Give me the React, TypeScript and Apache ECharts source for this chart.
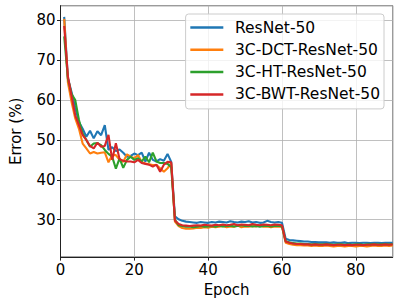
import React, { useEffect, useRef } from "react";
import * as echarts from "echarts";

const seriesNames = ["ResNet-50", "3C-DCT-ResNet-50", "3C-HT-ResNet-50", "3C-BWT-ResNet-50"];
const colors = ["#1f77b4", "#ff7f0e", "#2ca02c", "#d62728"];

const resnet = [
  80.9, 65.5, 62.0, 58.0, 54.5, 52.8, 50.8, 52.3, 50.4, 52.2,
  51.2, 53.7, 47.5, 48.2, 47.2, 47.6, 46.8, 45.8, 46.0, 46.6,
  46.2, 46.8, 44.6, 46.8, 45.0, 44.6, 45.2, 44.8, 46.5, 44.5,
  30.8, 30.1, 29.7, 29.5, 29.4, 29.3, 29.2, 29.4, 29.3, 29.2,
  29.4, 29.3, 29.5, 29.4, 29.3, 29.6, 29.4, 29.3, 29.5, 29.4,
  29.6, 29.3, 29.4, 29.2, 29.3, 29.7, 29.4, 29.3, 29.4, 29.2,
  25.2, 24.9, 24.8, 24.7, 24.6, 24.5, 24.5, 24.4, 24.4, 24.3,
  24.3, 24.3, 24.2, 24.3, 24.2, 24.2, 24.3, 24.1, 24.2, 24.2,
  24.1, 24.2, 24.2, 24.1, 24.2, 24.2, 24.1, 24.2, 24.2, 24.2,
];
const dct = [
  80.4, 64.5, 59.5, 55.4, 52.8, 49.1, 47.9, 46.6, 47.0, 46.6,
  46.8, 46.9, 44.4, 46.2, 46.2, 45.0, 44.5, 46.4, 45.8, 45.4,
  46.2, 44.5, 44.1, 43.9, 43.7, 43.7, 42.9, 42.0, 42.9, 44.1,
  29.5, 28.4, 27.9, 27.7, 27.7, 27.8, 28.0, 27.9, 28.1, 28.0,
  28.2, 28.1, 28.2, 28.4, 28.1, 28.3, 28.2, 28.5, 28.1, 28.3,
  28.2, 28.4, 28.3, 28.6, 28.2, 28.3, 28.1, 28.3, 28.2, 28.3,
  24.2, 23.9, 23.7, 23.6, 23.6, 23.5, 23.5, 23.4, 23.5, 23.4,
  23.4, 23.5, 23.4, 23.3, 23.4, 23.4, 23.3, 23.4, 23.4, 23.3,
  23.4, 23.4, 23.3, 23.4, 23.5, 23.4, 23.4, 23.5, 23.4, 23.5,
];
const ht = [
  76.0, 65.5, 61.5, 60.0, 55.0, 51.6, 50.0, 48.3, 49.1, 49.2,
  48.7, 47.5, 46.5, 45.8, 42.8, 45.4, 43.0, 45.0, 45.8, 45.0,
  45.4, 44.6, 45.8, 44.4, 46.8, 44.6, 44.2, 44.2, 44.0, 43.2,
  30.0, 28.6, 28.4, 28.2, 28.3, 28.1, 28.2, 28.4, 28.2, 28.3,
  28.4, 28.2, 28.5, 28.3, 28.4, 28.5, 28.3, 28.4, 28.6, 28.4,
  28.5, 28.3, 28.4, 28.2, 28.4, 28.5, 28.3, 28.4, 28.5, 28.3,
  24.6, 24.3, 24.1, 24.0, 24.0, 23.9, 23.9, 23.8, 23.9, 23.8,
  23.8, 23.9, 23.8, 23.7, 23.8, 23.8, 23.7, 23.8, 23.7, 23.8,
  23.8, 23.7, 23.8, 23.8, 23.9, 23.8, 23.8, 23.9, 23.8, 23.9,
];
const bwt = [
  78.6, 66.0, 61.0, 56.2, 53.7, 51.2, 50.0, 48.5, 47.9, 49.3,
  48.3, 48.5, 51.3, 45.0, 49.2, 45.2, 44.8, 44.6, 44.6, 44.4,
  45.0, 44.2, 44.0, 43.8, 43.3, 43.8, 42.0, 43.8, 44.5, 44.4,
  29.8, 28.9, 28.6, 28.5, 28.4, 28.5, 28.6, 28.5, 28.7, 28.6,
  28.5, 28.7, 28.6, 28.8, 28.6, 28.7, 28.9, 28.6, 28.8, 28.7,
  28.6, 28.9, 28.7, 28.6, 28.8, 28.7, 28.6, 28.8, 28.7, 28.6,
  24.5, 24.2, 24.0, 23.9, 23.9, 23.8, 23.8, 23.7, 23.8, 23.7,
  23.7, 23.8, 23.7, 23.6, 23.7, 23.7, 23.6, 23.7, 23.6, 23.7,
  23.7, 23.6, 23.7, 23.7, 23.8, 23.7, 23.7, 23.8, 23.7, 23.8,
];
const allSeries = [resnet, dct, ht, bwt];

const FONT = "DejaVu Sans";
const FS = 15;

export default function App() {
  const ref = useRef<HTMLDivElement>(null);
  useEffect(() => {
    if (!ref.current) return;
    const chart = echarts.init(ref.current, null, { renderer: "svg" });
    chart.setOption({
      animation: false,
      backgroundColor: "#ffffff",
      textStyle: { fontFamily: FONT },
      grid: {
        left: 49.3,
        top: 5.7,
        width: 343.4,
        height: 251.6,
        show: true,
        borderColor: "#222",
        borderWidth: 1,
        backgroundColor: "transparent",
      },
      legend: {
        orient: "vertical",
        right: 15,
        top: 14,
        data: seriesNames,
        icon: "rect",
        itemWidth: 33,
        itemHeight: 2.5,
        itemGap: 5.3,
        padding: [5, 4, 6, 4.7],
        backgroundColor: "rgba(255,255,255,0.8)",
        borderColor: "#cccccc",
        borderWidth: 1,
        borderRadius: 3,
        textStyle: {
          fontFamily: FONT,
          fontSize: 15.5,
          lineHeight: 17,
          color: "#000",
          padding: [0, 0, 0, 6.7],
        },
      },
      xAxis: {
        type: "value",
        min: 0,
        max: 90,
        interval: 20,
        name: "Epoch",
        nameLocation: "middle",
        nameGap: 18,
        nameTextStyle: { fontFamily: FONT, fontSize: FS, color: "#000" },
        axisLine: { show: true, lineStyle: { color: "#222", width: 1 } },
        axisTick: { show: true, length: 3.5, lineStyle: { color: "#222" } },
        axisLabel: {
          fontFamily: FONT,
          fontSize: FS,
          color: "#000",
          margin: 5,
          showMaxLabel: false,
        },
        splitLine: { show: true, lineStyle: { color: "#b0b0b0", width: 0.8 } },
      },
      yAxis: {
        type: "value",
        min: 20.6,
        max: 83.7,
        splitNumber: 6,
        name: "Error (%)",
        nameLocation: "middle",
        nameGap: 37.5,
        nameTextStyle: { fontFamily: FONT, fontSize: FS, color: "#000" },
        axisLine: { show: true, lineStyle: { color: "#222", width: 1 } },
        axisTick: { show: true, length: 3.5, lineStyle: { color: "#222" } },
        axisLabel: {
          fontFamily: FONT,
          fontSize: FS,
          color: "#000",
          margin: 5,
          showMinLabel: false,
          showMaxLabel: false,
        },
        splitLine: { show: true, lineStyle: { color: "#b0b0b0", width: 0.8 } },
      },
      series: allSeries.map((vals, i) => ({
        name: seriesNames[i],
        type: "line",
        symbol: "none",
        z: 2 + i,
        color: colors[i],
        itemStyle: { color: colors[i] },
        lineStyle: { width: 2.1, color: colors[i] },
        data: vals.map((v, k) => [k + 1, v]),
      })),
    });
    return () => chart.dispose();
  }, []);
  return (
    <div
      ref={ref}
      style={{ position: "absolute", left: 0, top: 0, width: 399, height: 302 }}
    />
  );
}
